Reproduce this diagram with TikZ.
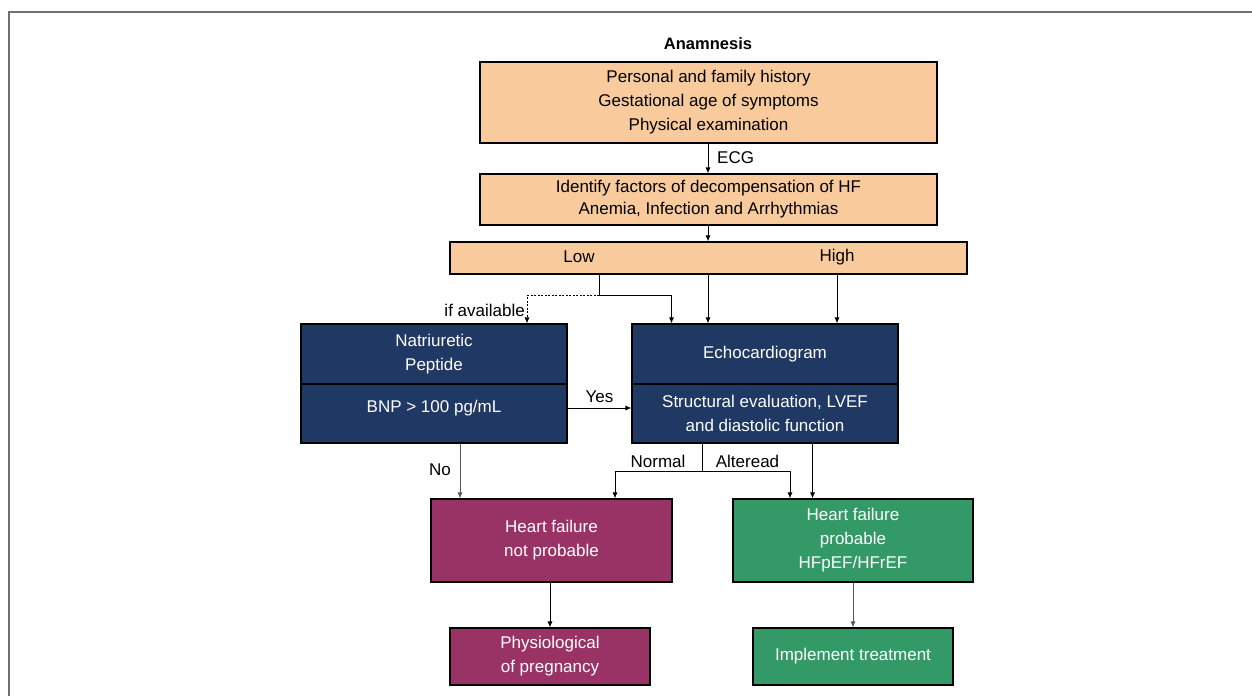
\documentclass[tikz,border=0pt]{standalone}
\usepackage{fontspec}
\setmainfont{Liberation Sans}
\usetikzlibrary{arrows.meta}
\definecolor{peach}{HTML}{F9CB9C}
\definecolor{navy}{HTML}{1F3864}
\definecolor{plum}{HTML}{993366}
\definecolor{jade}{HTML}{339966}
\definecolor{framegray}{HTML}{707070}
\begin{document}
\begin{tikzpicture}[x=1pt,y=-1pt,
  txt/.style={font=\fontsize{17}{24}\selectfont, inner sep=0pt, align=center},
  box/.style={draw=black, line width=1.1pt, inner sep=0pt, align=center,
              font=\fontsize{17}{24}\selectfont},
  orangebox/.style={box, fill=peach, text=black},
  navybox/.style={box, fill=navy, text=white},
  plumbox/.style={box, fill=plum, text=white},
  jadebox/.style={box, fill=jade, text=white},
  arr/.style={draw=black, line width=0.9pt, -{Latex[length=6pt,width=5pt]}},
  conn/.style={draw=black, line width=0.9pt},
  dotconn/.style={draw=black, line width=0.9pt, dash pattern=on 2pt off 1.5pt},
  grayarr/.style={arr, draw=black!65}
]
\useasboundingbox (0,0) rectangle (1252,696);
\draw[framegray, line width=1.4pt] (9,696) -- (9,12) -- (1252,12);

% title
\node[txt, font=\fontsize{16.5}{24}\selectfont\bfseries] (anam) at (708,44) {Anamnesis};
\coordinate (axis) at (708,0);

% orange boxes
\node[orangebox, minimum width=457pt, minimum height=81pt] (hist) at (708.5,102.5)
  {Personal and family history\\Gestational age of symptoms\\Physical examination};
\node[orangebox, minimum width=457pt, minimum height=51pt] (decomp) at (708.5,199.5)
  {Identify factors of decompensation of HF\\[-2pt]Anemia, Infection and Arrhythmias};
\node[orangebox, minimum width=517pt, minimum height=32pt] (level) at (708.5,258) {};
\node[txt] (low) at (579,257) {Low};
\node[txt] (high) at (837,257) {High};

% navy boxes
\node[navybox, minimum width=266pt, minimum height=60pt] (nptop) at (434,354)
  {Natriuretic\\Peptide};
\node[navybox, minimum width=266pt, minimum height=59pt] (npbot) at (434,413.5) {};
\node[txt, text=white] (bnp) at (434,408) {BNP > 100 pg/mL};
\node[navybox, minimum width=266pt, minimum height=60pt] (echotop) at (765,354)
  {Echocardiogram};
\node[navybox, minimum width=266pt, minimum height=59pt] (echobot) at (765,413.5)
  {Structural evaluation, LVEF\\and diastolic function};

% outcome boxes
\node[plumbox, minimum width=241pt, minimum height=83pt] (hfno) at (551.5,540.5)
  {Heart failure\\not probable};
\node[jadebox, minimum width=240pt, minimum height=83pt] (hfyes) at (853,540.5)
  {Heart failure\\probable\\HFpEF/HFrEF};
\node[plumbox, minimum width=200pt, minimum height=57pt] (phys) at (550,656.5)
  {Physiological\\of pregnancy};
\node[jadebox, minimum width=200pt, minimum height=57pt] (impl) at (853,656.5)
  {Implement treatment};

% connectors
\draw[arr] (hist.south -| axis) -- (decomp.north -| axis);
\node[txt, anchor=west] (ecg) at (717,158) {ECG};
\draw[arr] (decomp.south -| axis) -- (level.north -| axis);

\coordinate (lowj) at (599,295.5);
\draw[conn] (level.south -| lowj) -- (lowj);
\draw[arr] (lowj) -| (echotop.north -| 671.5,0);
\draw[dotconn, -{Latex[length=6pt,width=5pt]}] (lowj) -| (nptop.north -| 527,0);
\node[txt, anchor=east] (ifav) at (525,310) {if available};

\draw[arr] (level.south -| axis) -- (echotop.north -| axis);
\draw[arr] (level.south -| high) -- (echotop.north -| high);

\draw[arr] (npbot.east |- bnp) -- (echobot.west |- bnp);
\node[txt] (yes) at (599.5,396.5) {Yes};

\draw[grayarr] (npbot.south -| 460,0) -- (hfno.north -| 460,0);
\node[txt] (no) at (440,470) {No};

\coordinate (ej) at (702,471);
\draw[conn] (echobot.south -| ej) -- (ej);
\draw[arr] (ej) -| (hfno.north -| 615,0);
\draw[arr] (ej) -| (hfyes.north -| 790,0);
\node[txt] (normal) at (658,461.5) {Normal};
\node[txt] (alter) at (747.5,461.5) {Alteread};
\draw[arr] (echobot.south -| 812.5,0) -- (hfyes.north -| 812.5,0);

\draw[arr] (hfno.south -| phys) -- (phys.north);
\draw[grayarr] (hfyes.south) -- (impl.north);
\end{tikzpicture}
\end{document}
